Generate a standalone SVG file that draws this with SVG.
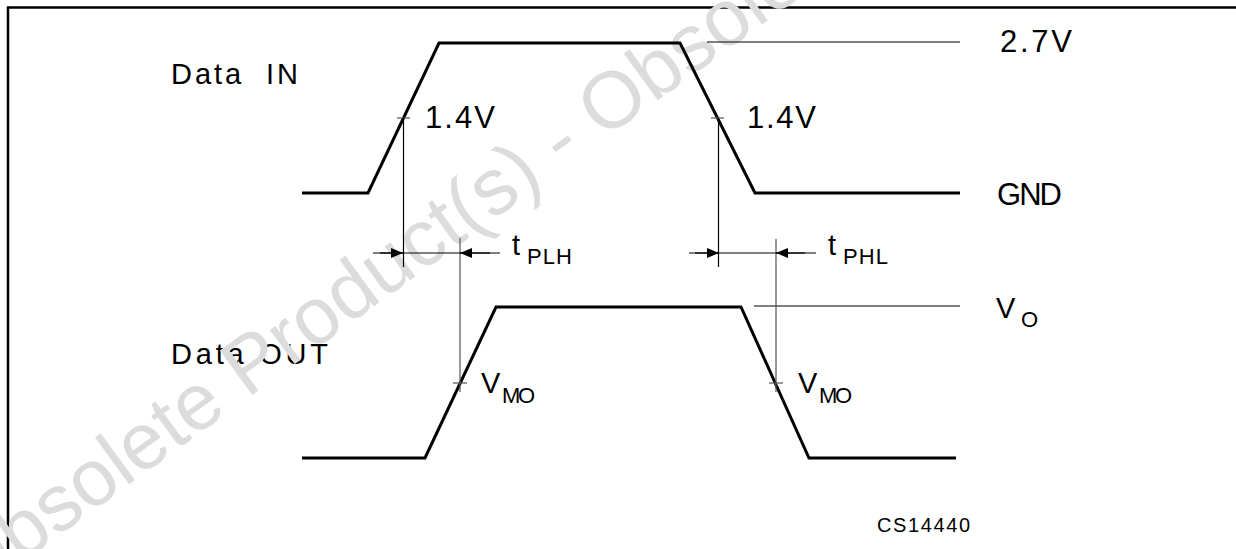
<svg xmlns="http://www.w3.org/2000/svg" width="1236" height="549" viewBox="0 0 1236 549">
  <style>
    .lbl { font-family: "Liberation Sans", Arial, sans-serif; fill: #000; }
    .big { font-size: 31px; }
    .mid { font-size: 29px; }
    .sub { font-size: 22px; }
    .name { font-size: 29px; }
    .wave { fill: none; stroke: #000; stroke-width: 3; stroke-linejoin: miter; }
    .thin { fill: none; stroke: #000; stroke-width: 1.2; }
    .tick { fill: none; stroke: #555; stroke-width: 1.2; }
    .wm { font-family: "Liberation Sans", Arial, sans-serif; font-size: 80px; fill: #dcdcdc; }
  </style>
  <defs>
    <marker id="ah" viewBox="0 0 12 10" refX="12" refY="5" markerWidth="12" markerHeight="10" markerUnits="userSpaceOnUse" orient="auto">
      <path d="M0,0 L12,5 L0,10 Z" fill="#000"/>
    </marker>
  </defs>
  <rect width="1236" height="549" fill="#fff"/>
  <!-- frame -->
  <path d="M8,549 V7.5 H1236" fill="none" stroke="#000" stroke-width="2.5"/>

  <!-- labels -->
  <g id="data-in-label"><text class="lbl name" x="171" y="84" textLength="127" lengthAdjust="spacing" xml:space="preserve">Data  IN</text></g>
  <g id="data-out-label"><text class="lbl name" x="171" y="364" textLength="157" lengthAdjust="spacing">Data OUT</text></g>
  <g id="lbl-14v-left"><text class="lbl big" x="425" y="128" textLength="70" lengthAdjust="spacing">1.4V</text></g>
  <g id="lbl-14v-right"><text class="lbl big" x="747" y="128" textLength="69" lengthAdjust="spacing">1.4V</text></g>
  <g id="lbl-27v"><text class="lbl big" x="1000" y="52" textLength="72" lengthAdjust="spacing">2.7V</text></g>
  <g id="lbl-gnd"><text class="lbl big" x="997" y="205" textLength="65" lengthAdjust="spacing">GND</text></g>
  <g id="lbl-tplh"><text class="lbl mid" x="512" y="255">t</text><text class="lbl sub" x="527" y="264" textLength="45" lengthAdjust="spacing">PLH</text></g>
  <g id="lbl-tphl"><text class="lbl mid" x="828" y="255">t</text><text class="lbl sub" x="843" y="264" textLength="45" lengthAdjust="spacing">PHL</text></g>
  <g id="lbl-vo"><text class="lbl mid" x="996" y="318">V</text><text class="lbl sub" x="1021" y="327">O</text></g>
  <g id="lbl-vmo-left"><text class="lbl mid" x="481" y="393">V</text><text class="lbl sub" x="502" y="403" textLength="33" lengthAdjust="spacing">MO</text></g>
  <g id="lbl-vmo-right"><text class="lbl mid" x="798" y="393">V</text><text class="lbl sub" x="819" y="403" textLength="33" lengthAdjust="spacing">MO</text></g>
  <g id="lbl-cs"><text class="lbl" style="font-size:20px" x="877" y="532" textLength="93" lengthAdjust="spacing">CS14440</text></g>

  <!-- watermark -->
  <text class="wm" transform="translate(-30,600) rotate(-36)">Obsolete Product(s) - Obsolete</text>

  <!-- waveforms -->
  <g id="data-in-wave"><path class="wave" d="M302,193 H368 L439,43 H680 L755,193 H960"/></g>
  <g id="data-out-wave"><path class="wave" d="M302,458 H425 L496,307 H741 L809,458 H956"/></g>

  <g id="connectors">
    <!-- reference levels -->
    <line class="thin" x1="707" y1="42" x2="960" y2="42"/>
    <line class="thin" x1="754" y1="306" x2="960" y2="306"/>
    <!-- 1.4V markers -->
    <line class="tick" x1="397" y1="118" x2="410" y2="118"/>
    <line class="thin" x1="403.5" y1="118" x2="403.5" y2="267"/>
    <line class="tick" x1="711" y1="118" x2="724" y2="118"/>
    <line class="thin" x1="718.5" y1="118" x2="718.5" y2="267"/>
    <!-- VMO markers -->
    <line class="tick" x1="453" y1="383" x2="467" y2="383"/>
    <line class="tick" x1="460" y1="238" x2="460" y2="392"/>
    <line class="tick" x1="769" y1="383" x2="783" y2="383"/>
    <line class="tick" x1="776" y1="239" x2="776" y2="392"/>
    <!-- tPLH dimension -->
    <line class="thin" x1="373" y1="253" x2="500" y2="253"/>
    <line class="thin" x1="380" y1="253" x2="403" y2="253" marker-end="url(#ah)"/>
    <line class="thin" x1="490" y1="253" x2="460" y2="253" marker-end="url(#ah)"/>
    <!-- tPHL dimension -->
    <line class="thin" x1="689" y1="253" x2="816" y2="253"/>
    <line class="thin" x1="695" y1="253" x2="719" y2="253" marker-end="url(#ah)"/>
    <line class="thin" x1="805" y1="253" x2="776" y2="253" marker-end="url(#ah)"/>
  </g>
</svg>
